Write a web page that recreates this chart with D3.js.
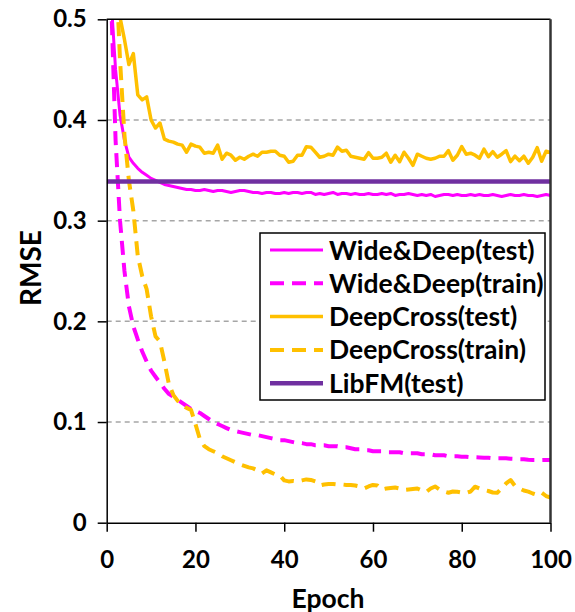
<!DOCTYPE html>
<html>
<head>
<meta charset="utf-8">
<script src="https://cdn.jsdelivr.net/npm/d3@7"></script>
<style>
  html, body { margin: 0; padding: 0; background: #fff; }
  text { font-family: Lato, "Open Sans", sans-serif; font-weight: 700; fill: #000; }
</style>
</head>
<body>
<div id="chart"></div>
<script>
// epochs 1..100, one point per epoch
const epochs = d3.range(1, 101);

const wideDeepTest = [
  0.52, 0.45, 0.405, 0.38, 0.363, 0.357, 0.352, 0.348, 0.345, 0.342,
  0.340, 0.338, 0.336, 0.335, 0.334, 0.333, 0.332, 0.331, 0.331, 0.330,
  0.330, 0.331, 0.330, 0.329, 0.330, 0.330, 0.329, 0.328, 0.329, 0.330,
  0.330, 0.329, 0.328, 0.328, 0.327, 0.328, 0.328, 0.327, 0.327, 0.328,
  0.327, 0.328, 0.328, 0.327, 0.328, 0.328, 0.326, 0.327, 0.326, 0.327,
  0.328, 0.326, 0.327, 0.327, 0.326, 0.327, 0.326, 0.326, 0.327, 0.326,
  0.326, 0.327, 0.326, 0.327, 0.325, 0.326, 0.326, 0.327, 0.326, 0.325,
  0.326, 0.325, 0.326, 0.324, 0.325, 0.326, 0.326, 0.325, 0.326, 0.325,
  0.325, 0.326, 0.325, 0.326, 0.325, 0.325, 0.326, 0.325, 0.324, 0.325,
  0.326, 0.325, 0.325, 0.326, 0.325, 0.325, 0.324, 0.325, 0.326, 0.325
];

const wideDeepTrain = [
  0.52, 0.38, 0.30, 0.25, 0.215, 0.195, 0.182, 0.170, 0.160, 0.151,
  0.145, 0.139, 0.133, 0.128, 0.125, 0.122, 0.119, 0.116, 0.113, 0.111,
  0.109, 0.106, 0.103, 0.100, 0.098, 0.096, 0.094, 0.092, 0.091, 0.090,
  0.089, 0.088, 0.087, 0.087, 0.086, 0.085, 0.084, 0.083, 0.082, 0.082,
  0.081, 0.080, 0.079, 0.079, 0.078, 0.078, 0.077, 0.077, 0.077, 0.076,
  0.076, 0.076, 0.075, 0.075, 0.074, 0.073, 0.073, 0.072, 0.072, 0.071,
  0.071, 0.071, 0.070, 0.070, 0.070, 0.070, 0.069, 0.069, 0.069, 0.069,
  0.068, 0.068, 0.068, 0.067, 0.067, 0.067, 0.066, 0.066, 0.066, 0.0656,
  0.0655, 0.065, 0.065, 0.0648, 0.0646, 0.0645, 0.064, 0.064, 0.064, 0.064,
  0.0635, 0.0633, 0.063, 0.063, 0.0625, 0.0623, 0.0623, 0.0622, 0.0623, 0.0622
];

const deepCrossTest = [
  0.62, 0.56, 0.502, 0.48, 0.455, 0.466, 0.425, 0.420, 0.423, 0.400,
  0.392, 0.397, 0.381, 0.379, 0.378, 0.376, 0.375, 0.368, 0.376, 0.374,
  0.373, 0.367, 0.368, 0.367, 0.375, 0.361, 0.367, 0.365, 0.360, 0.363,
  0.361, 0.364, 0.366, 0.364, 0.368, 0.368, 0.369, 0.369, 0.365, 0.364,
  0.358, 0.359, 0.365, 0.365, 0.3735, 0.373, 0.368, 0.363, 0.364, 0.366,
  0.365, 0.373, 0.369, 0.370, 0.364, 0.363, 0.362, 0.361, 0.3675, 0.362,
  0.362, 0.363, 0.367, 0.358, 0.365, 0.3585, 0.368, 0.362, 0.355, 0.366,
  0.364, 0.362, 0.361, 0.362, 0.364, 0.364, 0.3695, 0.360, 0.365, 0.3735,
  0.366, 0.367, 0.365, 0.362, 0.371, 0.3635, 0.3685, 0.363, 0.366, 0.3695,
  0.3586, 0.364, 0.3595, 0.364, 0.357, 0.363, 0.3725, 0.359, 0.369, 0.3675
];

const deepCrossTrain = [
  0.65, 0.56, 0.46, 0.385, 0.34, 0.31, 0.265, 0.245, 0.232, 0.205,
  0.185, 0.180, 0.160, 0.138, 0.127, 0.121, 0.117, 0.114, 0.112, 0.098,
  0.083, 0.076, 0.073, 0.071, 0.069, 0.066, 0.064, 0.062, 0.060, 0.058,
  0.0565, 0.055, 0.054, 0.052, 0.049, 0.052, 0.050, 0.048, 0.047, 0.042,
  0.041, 0.0415, 0.041, 0.042, 0.043, 0.0425, 0.041, 0.037, 0.038, 0.0385,
  0.0385, 0.038, 0.038, 0.0375, 0.0375, 0.037, 0.036, 0.034, 0.036, 0.0375,
  0.037, 0.033, 0.034, 0.0345, 0.035, 0.034, 0.0325, 0.033, 0.0335, 0.034,
  0.032, 0.0305, 0.034, 0.036, 0.033, 0.031, 0.0298, 0.031, 0.0308, 0.030,
  0.0295, 0.031, 0.0358, 0.034, 0.0325, 0.0315, 0.030, 0.0298, 0.034, 0.039,
  0.0424, 0.0365, 0.034, 0.032, 0.0308, 0.029, 0.0275, 0.0298, 0.0265, 0.025
];

// LibFM is a flat reference level across the whole run
const libFMEpochs = [0, 100];
const libFMTest = [0.339, 0.339];

const yTicks = [0, 0.1, 0.2, 0.3, 0.4, 0.5];
const xTicks = [0, 20, 40, 60, 80, 100];

const series = [
  { name: "Wide&Deep(test)", x: epochs, y: wideDeepTest, color: "#FF00FF", width: 3, dash: null },
  { name: "Wide&Deep(train)", x: epochs, y: wideDeepTrain, color: "#FF00FF", width: 4, dash: "14,8" },
  { name: "DeepCross(test)", x: epochs, y: deepCrossTest, color: "#FFC000", width: 3.5, dash: null },
  { name: "DeepCross(train)", x: epochs, y: deepCrossTrain, color: "#FFC000", width: 4, dash: "14,8" },
  { name: "LibFM(test)", x: libFMEpochs, y: libFMTest, color: "#7030A0", width: 4.5, dash: null },
];

const W = 575, H = 612;
const svg = d3.select("#chart").append("svg").attr("width", W).attr("height", H);

const x = d3.scaleLinear().domain([0, 100]).range([106.7, 550.5]);
const y = d3.scaleLinear().domain([0, 0.5]).range([522.7, 19.3]);

// gridlines (dashed gray)
svg.append("g")
  .selectAll("line")
  .data(yTicks.filter((d) => d > 0 && d < 0.5))
  .join("line")
  .attr("x1", x(0))
  .attr("x2", x(100))
  .attr("y1", (d) => y(d))
  .attr("y2", (d) => y(d))
  .attr("stroke", "#A6A6A6")
  .attr("stroke-width", 1.5)
  .attr("stroke-dasharray", "5,4");

// clip the lines to the plot area like Excel does
svg.append("clipPath").attr("id", "plotClip")
  .append("rect")
  .attr("x", x(0))
  .attr("y", y(0.5))
  .attr("width", x(100) - x(0))
  .attr("height", y(0) - y(0.5));

const line = d3.line().x((d) => x(d[0])).y((d) => y(d[1]));

const plot = svg.append("g").attr("clip-path", "url(#plotClip)");
series.forEach((s) => {
  plot.append("path")
    .datum(s.x.map((e, i) => [e, s.y[i]]))
    .attr("d", line)
    .attr("fill", "none")
    .attr("stroke", s.color)
    .attr("stroke-width", s.width)
    .attr("stroke-linejoin", "round")
    .attr("stroke-dasharray", s.dash);
});

// top and right border of the plot area
svg.append("line")
  .attr("x1", x(0)).attr("x2", x(100))
  .attr("y1", y(0.5)).attr("y2", y(0.5))
  .attr("stroke", "#000").attr("stroke-width", 1.5);
svg.append("line")
  .attr("x1", x(100)).attr("x2", x(100))
  .attr("y1", y(0.5)).attr("y2", y(0))
  .attr("stroke", "#333").attr("stroke-width", 2.5);

// Y axis
const yAxis = svg.append("g")
  .attr("transform", `translate(${x(0)},0)`)
  .call(d3.axisLeft(y).tickValues(yTicks).tickSize(9).tickSizeOuter(0).tickPadding(11)
    .tickFormat((d) => (d === 0 ? "0" : d.toFixed(1))));

// X axis
const xAxis = svg.append("g")
  .attr("transform", `translate(0,${y(0)})`)
  .call(d3.axisBottom(x).tickValues(xTicks).tickSize(9).tickSizeOuter(0).tickPadding(19));

[yAxis, xAxis].forEach((g) => {
  g.select(".domain").attr("stroke", "#000").attr("stroke-width", 1.5);
  g.selectAll(".tick line").attr("stroke", "#000").attr("stroke-width", 1.5);
  g.selectAll(".tick text")
    .attr("font-family", "Lato, sans-serif")
    .attr("font-weight", 700)
    .attr("font-size", 24)
    .attr("fill", "#000");
});

// axis titles
svg.append("text")
  .attr("x", 328)
  .attr("y", 608)
  .attr("text-anchor", "middle")
  .attr("font-size", 26.5)
  .text("Epoch");

svg.append("text")
  .attr("transform", "translate(41,268) rotate(-90)")
  .attr("text-anchor", "middle")
  .attr("font-size", 28)
  .text("RMSE");

// legend
const legend = svg.append("g").attr("transform", "translate(260,233)");
legend.append("rect")
  .attr("width", 285)
  .attr("height", 167)
  .attr("fill", "#fff")
  .attr("stroke", "#000")
  .attr("stroke-width", 1.5);

series.forEach((s, i) => {
  const yOff = 17 + i * 33.3;
  legend.append("line")
    .attr("x1", 10).attr("x2", 63)
    .attr("y1", yOff).attr("y2", yOff)
    .attr("stroke", s.color)
    .attr("stroke-width", s.width)
    .attr("stroke-dasharray", s.dash);
  legend.append("text")
    .attr("x", 69)
    .attr("y", yOff + 9.5)
    .attr("font-size", 26.5)
    .text(s.name);
});
</script>
</body>
</html>
